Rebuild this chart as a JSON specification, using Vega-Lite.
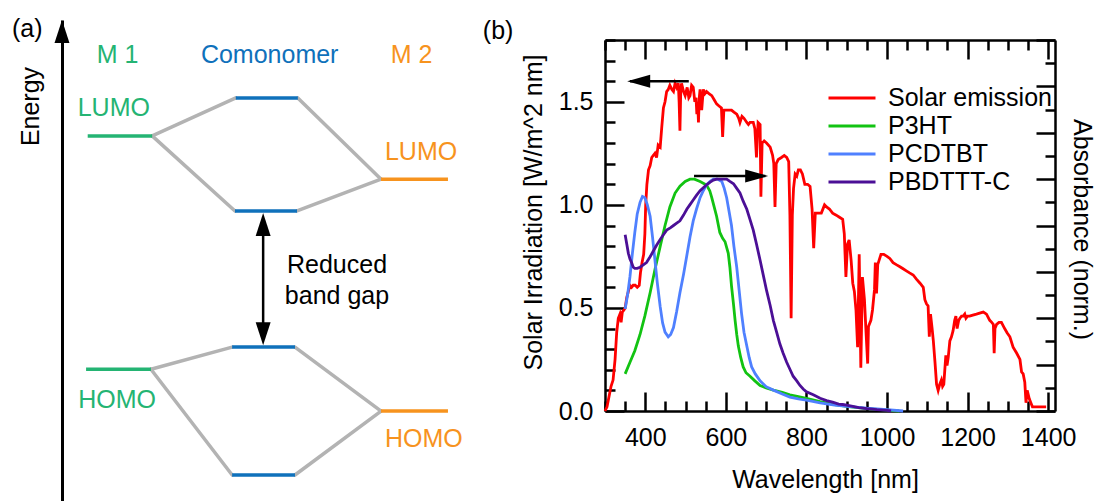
{
  "$schema": "https://vega.github.io/schema/vega-lite/v6.json",
  "width": 1096,
  "height": 501,
  "autosize": {"type": "none"},
  "padding": 0,
  "background": "white",
  "config": {
    "view": {"stroke": null},
    "font": "Liberation Sans",
    "axis": {
      "grid": false,
      "labelFont": "Liberation Sans",
      "labelFontSize": 25,
      "labelColor": "black",
      "titleFont": "Liberation Sans",
      "titleFontSize": 25,
      "titleFontWeight": "normal",
      "titleColor": "black",
      "domainColor": "black",
      "domainWidth": 2.5,
      "tickColor": "black",
      "tickWidth": 2.5,
      "labelOverlap": false,
      "labelFlush": false
    },
    "legend": {
      "orient": "none",
      "legendX": 827,
      "legendY": 84,
      "title": null,
      "padding": 0,
      "symbolType": "stroke",
      "symbolSize": 2209,
      "symbolStrokeWidth": 3,
      "labelFont": "Liberation Sans",
      "labelFontSize": 25,
      "labelColor": "black",
      "labelOffset": 11,
      "labelLimit": 400,
      "clipHeight": 28,
      "rowPadding": 0
    }
  },
  "datasets": {
    "links": [
      {"u": 22.1, "E": 75.9, "u2": 42.6, "E2": 83.8},
      {"u": 22.1, "E": 75.9, "u2": 42.4, "E2": 60.3},
      {"u": 57.8, "E": 83.8, "u2": 78.2, "E2": 66.9},
      {"u": 57.6, "E": 60.3, "u2": 78.2, "E2": 66.9},
      {"u": 21.8, "E": 27.4, "u2": 41.7, "E2": 32.0},
      {"u": 21.8, "E": 27.4, "u2": 41.7, "E2": 5.4},
      {"u": 57.1, "E": 32.0, "u2": 78.2, "E2": 18.7},
      {"u": 57.1, "E": 5.4, "u2": 78.2, "E2": 18.7}
    ],
    "levels": [
      {"molecule": "M1", "u": 6.3, "u2": 22.1, "E": 75.9},
      {"molecule": "M1", "u": 5.9, "u2": 21.8, "E": 27.4},
      {"molecule": "Comonomer", "u": 42.6, "u2": 57.8, "E": 83.8},
      {"molecule": "Comonomer", "u": 42.4, "u2": 57.6, "E": 60.3},
      {"molecule": "Comonomer", "u": 41.7, "u2": 57.1, "E": 32.0},
      {"molecule": "Comonomer", "u": 41.7, "u2": 57.1, "E": 5.4},
      {"molecule": "M2", "u": 78.2, "u2": 94.6, "E": 66.9},
      {"molecule": "M2", "u": 78.2, "u2": 94.6, "E": 18.7}
    ],
    "gap": [
      {"u": 49.3, "E": 57.5, "E2": 35.0}
    ],
    "heads_a": [
      {"u": 49.3, "E": 59.9, "dir": "up"},
      {"u": 49.3, "E": 32.4, "dir": "down"},
      {"u": 0, "E": 100, "dir": "up"}
    ],
    "labels_a": [
      {"text": "M 1", "u": 13.6, "E": 92.7, "molecule": "M1"},
      {"text": "Comonomer", "u": 50.9, "E": 92.7, "molecule": "Comonomer"},
      {"text": "M 2", "u": 85.7, "E": 92.7, "molecule": "M2"},
      {"text": "LUMO", "u": 12.7, "E": 81.8, "molecule": "M1"},
      {"text": "LUMO", "u": 88.0, "E": 72.6, "molecule": "M2"},
      {"text": "HOMO", "u": 13.5, "E": 21.0, "molecule": "M1"},
      {"text": "HOMO", "u": 88.7, "E": 12.9, "molecule": "M2"},
      {"text": "Reduced", "u": 67.4, "E": 49.0, "molecule": "none"},
      {"text": "band gap", "u": 67.4, "E": 42.6, "molecule": "none"},
      {"text": "(a)", "u": -8.5, "E": 98.1, "molecule": "none"},
      {"text": "(b)", "u": 106.9, "E": 97.7, "molecule": "none"}
    ],
    "solar": [
      {"nm": 300, "irr": 0.0}, {"nm": 305, "irr": 0.02}, {"nm": 310, "irr": 0.07}, {"nm": 315, "irr": 0.12},
      {"nm": 320, "irr": 0.15}, {"nm": 325, "irr": 0.25}, {"nm": 329, "irr": 0.38}, {"nm": 333, "irr": 0.45},
      {"nm": 337, "irr": 0.47}, {"nm": 340, "irr": 0.43}, {"nm": 343, "irr": 0.48}, {"nm": 347, "irr": 0.49},
      {"nm": 350, "irr": 0.50}, {"nm": 354, "irr": 0.55}, {"nm": 358, "irr": 0.58}, {"nm": 362, "irr": 0.61},
      {"nm": 366, "irr": 0.60}, {"nm": 370, "irr": 0.61}, {"nm": 375, "irr": 0.61}, {"nm": 380, "irr": 0.60},
      {"nm": 385, "irr": 0.61}, {"nm": 388, "irr": 0.67}, {"nm": 392, "irr": 0.72}, {"nm": 396, "irr": 0.76},
      {"nm": 399, "irr": 0.86}, {"nm": 401, "irr": 1.0}, {"nm": 404, "irr": 1.10}, {"nm": 408, "irr": 1.17},
      {"nm": 412, "irr": 1.19}, {"nm": 416, "irr": 1.23}, {"nm": 420, "irr": 1.24}, {"nm": 424, "irr": 1.25},
      {"nm": 428, "irr": 1.23}, {"nm": 432, "irr": 1.29}, {"nm": 437, "irr": 1.28}, {"nm": 441, "irr": 1.38},
      {"nm": 445, "irr": 1.47}, {"nm": 449, "irr": 1.50}, {"nm": 453, "irr": 1.55}, {"nm": 457, "irr": 1.56},
      {"nm": 461, "irr": 1.58}, {"nm": 466, "irr": 1.56}, {"nm": 470, "irr": 1.55}, {"nm": 474, "irr": 1.59},
      {"nm": 478, "irr": 1.57}, {"nm": 482, "irr": 1.59}, {"nm": 484, "irr": 1.50}, {"nm": 486, "irr": 1.36},
      {"nm": 488, "irr": 1.55}, {"nm": 490, "irr": 1.59}, {"nm": 495, "irr": 1.55}, {"nm": 499, "irr": 1.53},
      {"nm": 504, "irr": 1.57}, {"nm": 508, "irr": 1.52}, {"nm": 511, "irr": 1.53}, {"nm": 515, "irr": 1.58},
      {"nm": 519, "irr": 1.57}, {"nm": 523, "irr": 1.50}, {"nm": 526, "irr": 1.52}, {"nm": 528, "irr": 1.44},
      {"nm": 530, "irr": 1.50}, {"nm": 532, "irr": 1.40}, {"nm": 534, "irr": 1.52}, {"nm": 536, "irr": 1.56},
      {"nm": 540, "irr": 1.46}, {"nm": 544, "irr": 1.56}, {"nm": 548, "irr": 1.54}, {"nm": 552, "irr": 1.55},
      {"nm": 558, "irr": 1.54}, {"nm": 565, "irr": 1.53}, {"nm": 571, "irr": 1.51}, {"nm": 577, "irr": 1.49},
      {"nm": 583, "irr": 1.48}, {"nm": 589, "irr": 1.47}, {"nm": 592, "irr": 1.33}, {"nm": 595, "irr": 1.46},
      {"nm": 605, "irr": 1.46}, {"nm": 614, "irr": 1.46}, {"nm": 620, "irr": 1.45}, {"nm": 627, "irr": 1.44},
      {"nm": 632, "irr": 1.42}, {"nm": 635, "irr": 1.40}, {"nm": 640, "irr": 1.43}, {"nm": 645, "irr": 1.42},
      {"nm": 652, "irr": 1.40}, {"nm": 656, "irr": 1.39}, {"nm": 660, "irr": 1.40}, {"nm": 664, "irr": 1.40},
      {"nm": 668, "irr": 1.40}, {"nm": 672, "irr": 1.37}, {"nm": 676, "irr": 1.23}, {"nm": 680, "irr": 1.40},
      {"nm": 685, "irr": 1.39}, {"nm": 687, "irr": 1.04}, {"nm": 690, "irr": 1.30}, {"nm": 695, "irr": 1.31},
      {"nm": 701, "irr": 1.30}, {"nm": 710, "irr": 1.28}, {"nm": 716, "irr": 1.24}, {"nm": 719, "irr": 1.20},
      {"nm": 722, "irr": 0.99}, {"nm": 725, "irr": 1.20}, {"nm": 730, "irr": 1.22}, {"nm": 738, "irr": 1.23},
      {"nm": 745, "irr": 1.24}, {"nm": 751, "irr": 1.23}, {"nm": 756, "irr": 1.21}, {"nm": 759, "irr": 0.95},
      {"nm": 762, "irr": 0.45}, {"nm": 765, "irr": 0.95}, {"nm": 768, "irr": 1.08}, {"nm": 772, "irr": 1.15},
      {"nm": 776, "irr": 1.14}, {"nm": 780, "irr": 1.17}, {"nm": 785, "irr": 1.17}, {"nm": 790, "irr": 1.15},
      {"nm": 796, "irr": 1.10}, {"nm": 803, "irr": 1.10}, {"nm": 809, "irr": 1.09}, {"nm": 814, "irr": 0.98},
      {"nm": 818, "irr": 0.79}, {"nm": 822, "irr": 0.96}, {"nm": 830, "irr": 0.96}, {"nm": 837, "irr": 0.96},
      {"nm": 845, "irr": 1.00}, {"nm": 850, "irr": 0.99}, {"nm": 857, "irr": 0.98}, {"nm": 865, "irr": 0.96},
      {"nm": 874, "irr": 0.95}, {"nm": 882, "irr": 0.94}, {"nm": 890, "irr": 0.93}, {"nm": 894, "irr": 0.86},
      {"nm": 898, "irr": 0.65}, {"nm": 902, "irr": 0.81}, {"nm": 906, "irr": 0.83}, {"nm": 911, "irr": 0.73},
      {"nm": 915, "irr": 0.62}, {"nm": 919, "irr": 0.58}, {"nm": 923, "irr": 0.49}, {"nm": 927, "irr": 0.31},
      {"nm": 931, "irr": 0.76}, {"nm": 935, "irr": 0.21}, {"nm": 939, "irr": 0.65}, {"nm": 944, "irr": 0.54},
      {"nm": 948, "irr": 0.38}, {"nm": 952, "irr": 0.23}, {"nm": 954, "irr": 0.41}, {"nm": 960, "irr": 0.44},
      {"nm": 964, "irr": 0.49}, {"nm": 969, "irr": 0.59}, {"nm": 971, "irr": 0.72}, {"nm": 974, "irr": 0.57},
      {"nm": 977, "irr": 0.71}, {"nm": 985, "irr": 0.76}, {"nm": 992, "irr": 0.76}, {"nm": 1000, "irr": 0.75},
      {"nm": 1007, "irr": 0.74}, {"nm": 1015, "irr": 0.72}, {"nm": 1023, "irr": 0.71}, {"nm": 1032, "irr": 0.70},
      {"nm": 1040, "irr": 0.69}, {"nm": 1048, "irr": 0.68}, {"nm": 1056, "irr": 0.67}, {"nm": 1065, "irr": 0.66},
      {"nm": 1073, "irr": 0.64}, {"nm": 1082, "irr": 0.62}, {"nm": 1090, "irr": 0.60}, {"nm": 1094, "irr": 0.54},
      {"nm": 1098, "irr": 0.52}, {"nm": 1102, "irr": 0.51}, {"nm": 1105, "irr": 0.36}, {"nm": 1108, "irr": 0.47},
      {"nm": 1112, "irr": 0.40}, {"nm": 1115, "irr": 0.34}, {"nm": 1119, "irr": 0.24}, {"nm": 1123, "irr": 0.13},
      {"nm": 1127, "irr": 0.10}, {"nm": 1131, "irr": 0.13}, {"nm": 1135, "irr": 0.15}, {"nm": 1138, "irr": 0.12},
      {"nm": 1141, "irr": 0.13}, {"nm": 1146, "irr": 0.27}, {"nm": 1149, "irr": 0.22}, {"nm": 1152, "irr": 0.26},
      {"nm": 1156, "irr": 0.34}, {"nm": 1160, "irr": 0.36}, {"nm": 1164, "irr": 0.39}, {"nm": 1168, "irr": 0.44},
      {"nm": 1171, "irr": 0.46}, {"nm": 1174, "irr": 0.40}, {"nm": 1178, "irr": 0.44}, {"nm": 1181, "irr": 0.45},
      {"nm": 1185, "irr": 0.46}, {"nm": 1189, "irr": 0.46}, {"nm": 1193, "irr": 0.47}, {"nm": 1196, "irr": 0.45},
      {"nm": 1200, "irr": 0.46}, {"nm": 1205, "irr": 0.46}, {"nm": 1213, "irr": 0.465}, {"nm": 1222, "irr": 0.47},
      {"nm": 1230, "irr": 0.475}, {"nm": 1239, "irr": 0.48}, {"nm": 1247, "irr": 0.47}, {"nm": 1255, "irr": 0.44},
      {"nm": 1260, "irr": 0.43}, {"nm": 1264, "irr": 0.42}, {"nm": 1266, "irr": 0.28}, {"nm": 1268, "irr": 0.40},
      {"nm": 1272, "irr": 0.42}, {"nm": 1278, "irr": 0.43}, {"nm": 1284, "irr": 0.43}, {"nm": 1292, "irr": 0.40},
      {"nm": 1298, "irr": 0.38}, {"nm": 1305, "irr": 0.36}, {"nm": 1313, "irr": 0.31}, {"nm": 1322, "irr": 0.28},
      {"nm": 1330, "irr": 0.25}, {"nm": 1334, "irr": 0.19}, {"nm": 1338, "irr": 0.18}, {"nm": 1342, "irr": 0.14},
      {"nm": 1345, "irr": 0.04}, {"nm": 1348, "irr": 0.10}, {"nm": 1353, "irr": 0.06}, {"nm": 1357, "irr": 0.04},
      {"nm": 1361, "irr": 0.02}, {"nm": 1370, "irr": 0.02}, {"nm": 1380, "irr": 0.02}, {"nm": 1395, "irr": 0.02}
    ],
    "absorbance": [
      {"polymer": "P3HT", "nm": 350, "a": 0.16}, {"polymer": "P3HT", "nm": 362, "a": 0.21},
      {"polymer": "P3HT", "nm": 374, "a": 0.26}, {"polymer": "P3HT", "nm": 387, "a": 0.33},
      {"polymer": "P3HT", "nm": 399, "a": 0.41}, {"polymer": "P3HT", "nm": 412, "a": 0.51},
      {"polymer": "P3HT", "nm": 424, "a": 0.61}, {"polymer": "P3HT", "nm": 437, "a": 0.71},
      {"polymer": "P3HT", "nm": 449, "a": 0.80}, {"polymer": "P3HT", "nm": 461, "a": 0.88},
      {"polymer": "P3HT", "nm": 474, "a": 0.94}, {"polymer": "P3HT", "nm": 486, "a": 0.97},
      {"polymer": "P3HT", "nm": 499, "a": 0.99}, {"polymer": "P3HT", "nm": 511, "a": 1.0},
      {"polymer": "P3HT", "nm": 522, "a": 1.0}, {"polymer": "P3HT", "nm": 536, "a": 0.99},
      {"polymer": "P3HT", "nm": 552, "a": 0.975}, {"polymer": "P3HT", "nm": 560, "a": 0.95},
      {"polymer": "P3HT", "nm": 565, "a": 0.92}, {"polymer": "P3HT", "nm": 571, "a": 0.88},
      {"polymer": "P3HT", "nm": 577, "a": 0.84}, {"polymer": "P3HT", "nm": 585, "a": 0.77},
      {"polymer": "P3HT", "nm": 592, "a": 0.745}, {"polymer": "P3HT", "nm": 598, "a": 0.73},
      {"polymer": "P3HT", "nm": 606, "a": 0.68}, {"polymer": "P3HT", "nm": 610, "a": 0.62},
      {"polymer": "P3HT", "nm": 614, "a": 0.54}, {"polymer": "P3HT", "nm": 619, "a": 0.46},
      {"polymer": "P3HT", "nm": 623, "a": 0.39}, {"polymer": "P3HT", "nm": 627, "a": 0.33},
      {"polymer": "P3HT", "nm": 631, "a": 0.28}, {"polymer": "P3HT", "nm": 637, "a": 0.23},
      {"polymer": "P3HT", "nm": 643, "a": 0.19}, {"polymer": "P3HT", "nm": 650, "a": 0.165},
      {"polymer": "P3HT", "nm": 660, "a": 0.15}, {"polymer": "P3HT", "nm": 672, "a": 0.13},
      {"polymer": "P3HT", "nm": 685, "a": 0.11}, {"polymer": "P3HT", "nm": 700, "a": 0.10},
      {"polymer": "P3HT", "nm": 718, "a": 0.09}, {"polymer": "P3HT", "nm": 740, "a": 0.08},
      {"polymer": "P3HT", "nm": 759, "a": 0.07}, {"polymer": "P3HT", "nm": 780, "a": 0.062},
      {"polymer": "P3HT", "nm": 800, "a": 0.055}, {"polymer": "P3HT", "nm": 834, "a": 0.04},
      {"polymer": "P3HT", "nm": 870, "a": 0.028}, {"polymer": "P3HT", "nm": 900, "a": 0.02},
      {"polymer": "P3HT", "nm": 950, "a": 0.01}, {"polymer": "P3HT", "nm": 1000, "a": 0.004},
      {"polymer": "P3HT", "nm": 1030, "a": 0.0},
      {"polymer": "PCDTBT", "nm": 350, "a": 0.44}, {"polymer": "PCDTBT", "nm": 356, "a": 0.50},
      {"polymer": "PCDTBT", "nm": 362, "a": 0.58}, {"polymer": "PCDTBT", "nm": 368, "a": 0.68},
      {"polymer": "PCDTBT", "nm": 374, "a": 0.77}, {"polymer": "PCDTBT", "nm": 380, "a": 0.85},
      {"polymer": "PCDTBT", "nm": 387, "a": 0.90}, {"polymer": "PCDTBT", "nm": 393, "a": 0.925},
      {"polymer": "PCDTBT", "nm": 399, "a": 0.92}, {"polymer": "PCDTBT", "nm": 405, "a": 0.89},
      {"polymer": "PCDTBT", "nm": 412, "a": 0.84}, {"polymer": "PCDTBT", "nm": 418, "a": 0.75},
      {"polymer": "PCDTBT", "nm": 424, "a": 0.65}, {"polymer": "PCDTBT", "nm": 430, "a": 0.55},
      {"polymer": "PCDTBT", "nm": 437, "a": 0.45}, {"polymer": "PCDTBT", "nm": 443, "a": 0.38},
      {"polymer": "PCDTBT", "nm": 449, "a": 0.34}, {"polymer": "PCDTBT", "nm": 457, "a": 0.32},
      {"polymer": "PCDTBT", "nm": 463, "a": 0.33}, {"polymer": "PCDTBT", "nm": 470, "a": 0.36},
      {"polymer": "PCDTBT", "nm": 478, "a": 0.43}, {"polymer": "PCDTBT", "nm": 486, "a": 0.51},
      {"polymer": "PCDTBT", "nm": 495, "a": 0.59}, {"polymer": "PCDTBT", "nm": 503, "a": 0.67},
      {"polymer": "PCDTBT", "nm": 511, "a": 0.75}, {"polymer": "PCDTBT", "nm": 519, "a": 0.82},
      {"polymer": "PCDTBT", "nm": 527, "a": 0.87}, {"polymer": "PCDTBT", "nm": 536, "a": 0.92},
      {"polymer": "PCDTBT", "nm": 544, "a": 0.95}, {"polymer": "PCDTBT", "nm": 552, "a": 0.975},
      {"polymer": "PCDTBT", "nm": 561, "a": 0.99}, {"polymer": "PCDTBT", "nm": 569, "a": 1.0},
      {"polymer": "PCDTBT", "nm": 579, "a": 1.0}, {"polymer": "PCDTBT", "nm": 590, "a": 0.99},
      {"polymer": "PCDTBT", "nm": 596, "a": 0.96}, {"polymer": "PCDTBT", "nm": 602, "a": 0.92},
      {"polymer": "PCDTBT", "nm": 608, "a": 0.86}, {"polymer": "PCDTBT", "nm": 614, "a": 0.80},
      {"polymer": "PCDTBT", "nm": 620, "a": 0.71}, {"polymer": "PCDTBT", "nm": 627, "a": 0.62},
      {"polymer": "PCDTBT", "nm": 633, "a": 0.52}, {"polymer": "PCDTBT", "nm": 639, "a": 0.42},
      {"polymer": "PCDTBT", "nm": 645, "a": 0.34}, {"polymer": "PCDTBT", "nm": 652, "a": 0.28},
      {"polymer": "PCDTBT", "nm": 658, "a": 0.23}, {"polymer": "PCDTBT", "nm": 664, "a": 0.19},
      {"polymer": "PCDTBT", "nm": 673, "a": 0.16}, {"polymer": "PCDTBT", "nm": 685, "a": 0.13},
      {"polymer": "PCDTBT", "nm": 700, "a": 0.105}, {"polymer": "PCDTBT", "nm": 718, "a": 0.09},
      {"polymer": "PCDTBT", "nm": 740, "a": 0.073}, {"polymer": "PCDTBT", "nm": 759, "a": 0.06},
      {"polymer": "PCDTBT", "nm": 780, "a": 0.052}, {"polymer": "PCDTBT", "nm": 800, "a": 0.047},
      {"polymer": "PCDTBT", "nm": 834, "a": 0.035}, {"polymer": "PCDTBT", "nm": 870, "a": 0.025},
      {"polymer": "PCDTBT", "nm": 900, "a": 0.02}, {"polymer": "PCDTBT", "nm": 950, "a": 0.012},
      {"polymer": "PCDTBT", "nm": 1000, "a": 0.006}, {"polymer": "PCDTBT", "nm": 1040, "a": 0.0},
      {"polymer": "PBDTTT-C", "nm": 350, "a": 0.76}, {"polymer": "PBDTTT-C", "nm": 354, "a": 0.72},
      {"polymer": "PBDTTT-C", "nm": 358, "a": 0.68}, {"polymer": "PBDTTT-C", "nm": 362, "a": 0.655},
      {"polymer": "PBDTTT-C", "nm": 366, "a": 0.64}, {"polymer": "PBDTTT-C", "nm": 370, "a": 0.62},
      {"polymer": "PBDTTT-C", "nm": 374, "a": 0.615}, {"polymer": "PBDTTT-C", "nm": 380, "a": 0.615},
      {"polymer": "PBDTTT-C", "nm": 387, "a": 0.62}, {"polymer": "PBDTTT-C", "nm": 395, "a": 0.63},
      {"polymer": "PBDTTT-C", "nm": 403, "a": 0.64}, {"polymer": "PBDTTT-C", "nm": 412, "a": 0.665},
      {"polymer": "PBDTTT-C", "nm": 420, "a": 0.69}, {"polymer": "PBDTTT-C", "nm": 428, "a": 0.715},
      {"polymer": "PBDTTT-C", "nm": 437, "a": 0.74}, {"polymer": "PBDTTT-C", "nm": 445, "a": 0.76},
      {"polymer": "PBDTTT-C", "nm": 453, "a": 0.78}, {"polymer": "PBDTTT-C", "nm": 462, "a": 0.79},
      {"polymer": "PBDTTT-C", "nm": 470, "a": 0.80}, {"polymer": "PBDTTT-C", "nm": 478, "a": 0.81},
      {"polymer": "PBDTTT-C", "nm": 486, "a": 0.82}, {"polymer": "PBDTTT-C", "nm": 495, "a": 0.845},
      {"polymer": "PBDTTT-C", "nm": 503, "a": 0.87}, {"polymer": "PBDTTT-C", "nm": 511, "a": 0.89},
      {"polymer": "PBDTTT-C", "nm": 519, "a": 0.91}, {"polymer": "PBDTTT-C", "nm": 527, "a": 0.93},
      {"polymer": "PBDTTT-C", "nm": 536, "a": 0.95}, {"polymer": "PBDTTT-C", "nm": 544, "a": 0.963},
      {"polymer": "PBDTTT-C", "nm": 552, "a": 0.975}, {"polymer": "PBDTTT-C", "nm": 561, "a": 0.987},
      {"polymer": "PBDTTT-C", "nm": 569, "a": 0.996}, {"polymer": "PBDTTT-C", "nm": 577, "a": 1.0},
      {"polymer": "PBDTTT-C", "nm": 585, "a": 1.0}, {"polymer": "PBDTTT-C", "nm": 594, "a": 1.0},
      {"polymer": "PBDTTT-C", "nm": 602, "a": 1.0}, {"polymer": "PBDTTT-C", "nm": 610, "a": 0.99},
      {"polymer": "PBDTTT-C", "nm": 619, "a": 0.98}, {"polymer": "PBDTTT-C", "nm": 627, "a": 0.96},
      {"polymer": "PBDTTT-C", "nm": 635, "a": 0.94}, {"polymer": "PBDTTT-C", "nm": 643, "a": 0.905},
      {"polymer": "PBDTTT-C", "nm": 652, "a": 0.87}, {"polymer": "PBDTTT-C", "nm": 660, "a": 0.825},
      {"polymer": "PBDTTT-C", "nm": 668, "a": 0.78}, {"polymer": "PBDTTT-C", "nm": 676, "a": 0.72},
      {"polymer": "PBDTTT-C", "nm": 685, "a": 0.65}, {"polymer": "PBDTTT-C", "nm": 693, "a": 0.585},
      {"polymer": "PBDTTT-C", "nm": 701, "a": 0.52}, {"polymer": "PBDTTT-C", "nm": 710, "a": 0.455},
      {"polymer": "PBDTTT-C", "nm": 718, "a": 0.39}, {"polymer": "PBDTTT-C", "nm": 726, "a": 0.34},
      {"polymer": "PBDTTT-C", "nm": 734, "a": 0.29}, {"polymer": "PBDTTT-C", "nm": 742, "a": 0.25},
      {"polymer": "PBDTTT-C", "nm": 751, "a": 0.21}, {"polymer": "PBDTTT-C", "nm": 759, "a": 0.18},
      {"polymer": "PBDTTT-C", "nm": 767, "a": 0.15}, {"polymer": "PBDTTT-C", "nm": 776, "a": 0.13},
      {"polymer": "PBDTTT-C", "nm": 784, "a": 0.11}, {"polymer": "PBDTTT-C", "nm": 792, "a": 0.095},
      {"polymer": "PBDTTT-C", "nm": 800, "a": 0.083}, {"polymer": "PBDTTT-C", "nm": 817, "a": 0.07},
      {"polymer": "PBDTTT-C", "nm": 834, "a": 0.055}, {"polymer": "PBDTTT-C", "nm": 850, "a": 0.045},
      {"polymer": "PBDTTT-C", "nm": 865, "a": 0.038}, {"polymer": "PBDTTT-C", "nm": 880, "a": 0.03},
      {"polymer": "PBDTTT-C", "nm": 890, "a": 0.028}, {"polymer": "PBDTTT-C", "nm": 900, "a": 0.025},
      {"polymer": "PBDTTT-C", "nm": 915, "a": 0.02}, {"polymer": "PBDTTT-C", "nm": 930, "a": 0.015},
      {"polymer": "PBDTTT-C", "nm": 950, "a": 0.01}, {"polymer": "PBDTTT-C", "nm": 975, "a": 0.006},
      {"polymer": "PBDTTT-C", "nm": 1000, "a": 0.003}, {"polymer": "PBDTTT-C", "nm": 1010, "a": 0.0}
    ],
    "arrows_b": [
      {"nm": 508, "nm2": 362, "irr": 1.6},
      {"nm": 521, "nm2": 698, "irr": 1.14}
    ],
    "heads_b": [
      {"nm": 355, "irr": 1.6, "dir": "left"},
      {"nm": 705, "irr": 1.14, "dir": "right"}
    ]
  },
  "layer": [
    {
      "data": {"name": "links"},
      "mark": {"type": "rule", "color": "#b3b3b3", "strokeWidth": 3.5, "strokeCap": "round"},
      "encoding": {
        "x": {"field": "u", "type": "quantitative", "scale": {"domain": [0, 100], "range": [62, 470], "nice": false, "zero": false}, "axis": null},
        "y": {"field": "E", "type": "quantitative", "scale": {"domain": [0, 100], "range": [501, 20], "nice": false, "zero": false}, "axis": null},
        "x2": {"field": "u2"},
        "y2": {"field": "E2"}
      }
    },
    {
      "data": {"name": "levels"},
      "mark": {"type": "rule", "strokeWidth": 3.5},
      "encoding": {
        "x": {"field": "u", "type": "quantitative", "scale": {"domain": [0, 100], "range": [62, 470], "nice": false, "zero": false}, "axis": null},
        "x2": {"field": "u2"},
        "y": {"field": "E", "type": "quantitative", "scale": {"domain": [0, 100], "range": [501, 20], "nice": false, "zero": false}, "axis": null},
        "stroke": {"field": "molecule", "type": "nominal", "scale": {"domain": ["M1", "Comonomer", "M2"], "range": ["#24b473", "#0f71bb", "#f7931e"]}, "legend": null}
      }
    },
    {
      "data": {"name": "gap"},
      "mark": {"type": "rule", "color": "black", "strokeWidth": 2.5},
      "encoding": {
        "x": {"field": "u", "type": "quantitative", "scale": {"domain": [0, 100], "range": [62, 470], "nice": false, "zero": false}, "axis": null},
        "y": {
          "field": "E", "type": "quantitative",
          "scale": {"domain": [0, 100], "range": [501, 20], "nice": false, "zero": false},
          "axis": {
            "orient": "left", "offset": -62, "ticks": false, "labels": false, "domainWidth": 3,
            "title": "Energy", "titleAngle": 270, "titleX": -24, "titleY": 106,
            "titleAlign": "center", "titleBaseline": "alphabetic"
          }
        },
        "y2": {"field": "E2"}
      }
    },
    {
      "data": {"name": "heads_a"},
      "mark": {"type": "point", "filled": true, "color": "black", "size": 529, "opacity": 1, "strokeWidth": 0},
      "encoding": {
        "x": {"field": "u", "type": "quantitative", "scale": {"domain": [0, 100], "range": [62, 470], "nice": false, "zero": false}, "axis": null},
        "y": {"field": "E", "type": "quantitative", "scale": {"domain": [0, 100], "range": [501, 20], "nice": false, "zero": false}, "axis": null},
        "shape": {"field": "dir", "type": "nominal", "scale": {"domain": ["left", "right", "up", "down"], "range": ["M0,0L2,-0.57L2,0.57Z", "M0,0L-2,-0.57L-2,0.57Z", "M0,0L0.65,2L-0.65,2Z", "M0,0L0.65,-2L-0.65,-2Z"]}, "legend": null}
      }
    },
    {
      "data": {"name": "labels_a"},
      "mark": {"type": "text", "fontSize": 25, "font": "Liberation Sans", "baseline": "middle", "align": "center"},
      "encoding": {
        "x": {"field": "u", "type": "quantitative", "scale": {"domain": [0, 100], "range": [62, 470], "nice": false, "zero": false}, "axis": null},
        "y": {"field": "E", "type": "quantitative", "scale": {"domain": [0, 100], "range": [501, 20], "nice": false, "zero": false}, "axis": null},
        "text": {"field": "text"},
        "fill": {"field": "molecule", "type": "nominal", "scale": {"domain": ["M1", "Comonomer", "M2", "none"], "range": ["#24b473", "#0f71bb", "#f7931e", "black"]}, "legend": null}
      }
    },
    {
      "data": {"name": "solar"},
      "mark": {"type": "line", "strokeWidth": 2.8},
      "encoding": {
        "x": {
          "field": "nm", "type": "quantitative",
          "scale": {"domain": [300, 1417], "range": [605, 1055], "nice": false, "zero": false},
          "axis": {
            "orient": "bottom", "offset": -90, "format": "d",
            "values": [300, 350, 400, 450, 500, 550, 600, 650, 700, 750, 800, 850, 900, 950, 1000, 1050, 1100, 1150, 1200, 1250, 1300, 1350, 1400],
            "tickSize": {"condition": {"test": "datum.value % 200 === 0", "value": -19}, "value": -10},
            "labelExpr": "datum.value % 200 === 0 ? datum.label : ''",
            "labelBaseline": "alphabetic", "labelPadding": 53,
            "title": "Wavelength [nm]", "titleX": 825, "titleY": 76, "titleBaseline": "alphabetic"
          }
        },
        "y": {
          "field": "irr", "type": "quantitative",
          "scale": {"domain": [0, 1.8], "range": [411, 40], "nice": false, "zero": false},
          "axis": {
            "orient": "left", "offset": -605, "format": ".1f",
            "values": [0, 0.1, 0.2, 0.3, 0.4, 0.5, 0.6, 0.7, 0.8, 0.9, 1.0, 1.1, 1.2, 1.3, 1.4, 1.5, 1.6, 1.7, 1.8],
            "tickSize": {"condition": {"test": "abs(datum.value * 2 - round(datum.value * 2)) < 0.001", "value": -19}, "value": -10},
            "labelExpr": "abs(datum.value * 2 - round(datum.value * 2)) < 0.001 ? datum.label : ''",
            "labelPadding": 31,
            "title": "Solar Irradiation [W/m^2 nm]", "titleAngle": 270, "titleX": -64, "titleY": 212,
            "titleAlign": "center", "titleBaseline": "alphabetic"
          }
        },
        "color": {
          "datum": "Solar emission", "type": "nominal",
          "scale": {"domain": ["Solar emission", "P3HT", "PCDTBT", "PBDTTT-C"], "range": ["#ff0000", "#12c312", "#4f80ff", "#4b0f96"]},
          "legend": {"title": null}
        }
      }
    },
    {
      "data": {"name": "absorbance"},
      "mark": {"type": "line", "strokeWidth": 2.8},
      "encoding": {
        "x": {
          "field": "nm", "type": "quantitative",
          "scale": {"domain": [300, 1417], "range": [605, 1055], "nice": false, "zero": false},
          "axis": {
            "orient": "top", "offset": -40, "labels": false, "title": null,
            "values": [300, 350, 400, 450, 500, 550, 600, 650, 700, 750, 800, 850, 900, 950, 1000, 1050, 1100, 1150, 1200, 1250, 1300, 1350, 1400],
            "tickSize": {"condition": {"test": "datum.value % 200 === 0", "value": -19}, "value": -10}
          }
        },
        "y": {
          "field": "a", "type": "quantitative",
          "scale": {"domain": [0, 1.6], "range": [411, 40], "nice": false, "zero": false},
          "axis": {
            "orient": "right", "offset": -41, "labels": false,
            "values": [0, 0.1, 0.2, 0.3, 0.4, 0.5, 0.6, 0.7, 0.8, 0.9, 1.0, 1.1, 1.2, 1.3, 1.4, 1.5, 1.6],
            "tickSize": {"condition": {"test": "abs(datum.value * 5 - round(datum.value * 5)) < 0.001", "value": -19}, "value": -10},
            "title": "Absorbance (norm.)", "titleAngle": 90, "titleX": 18, "titleY": 229,
            "titleAlign": "center", "titleBaseline": "alphabetic"
          }
        },
        "color": {
          "field": "polymer", "type": "nominal",
          "scale": {"domain": ["Solar emission", "P3HT", "PCDTBT", "PBDTTT-C"], "range": ["#ff0000", "#12c312", "#4f80ff", "#4b0f96"]},
          "legend": {"title": null}
        }
      }
    },
    {
      "data": {"name": "arrows_b"},
      "mark": {"type": "rule", "color": "black", "strokeWidth": 2.5},
      "encoding": {
        "x": {"field": "nm", "type": "quantitative", "scale": {"domain": [300, 1417], "range": [605, 1055], "nice": false, "zero": false}, "axis": null},
        "x2": {"field": "nm2"},
        "y": {"field": "irr", "type": "quantitative", "scale": {"domain": [0, 1.8], "range": [411, 40], "nice": false, "zero": false}, "axis": null}
      }
    },
    {
      "data": {"name": "heads_b"},
      "mark": {"type": "point", "filled": true, "color": "black", "size": 529, "opacity": 1, "strokeWidth": 0},
      "encoding": {
        "x": {"field": "nm", "type": "quantitative", "scale": {"domain": [300, 1417], "range": [605, 1055], "nice": false, "zero": false}, "axis": null},
        "y": {"field": "irr", "type": "quantitative", "scale": {"domain": [0, 1.8], "range": [411, 40], "nice": false, "zero": false}, "axis": null},
        "shape": {"field": "dir", "type": "nominal", "scale": {"domain": ["left", "right", "up", "down"], "range": ["M0,0L2,-0.57L2,0.57Z", "M0,0L-2,-0.57L-2,0.57Z", "M0,0L0.65,2L-0.65,2Z", "M0,0L0.65,-2L-0.65,-2Z"]}, "legend": null}
      }
    }
  ],
  "resolve": {
    "scale": {"x": "independent", "y": "independent"},
    "axis": {"x": "independent", "y": "independent"}
  }
}
